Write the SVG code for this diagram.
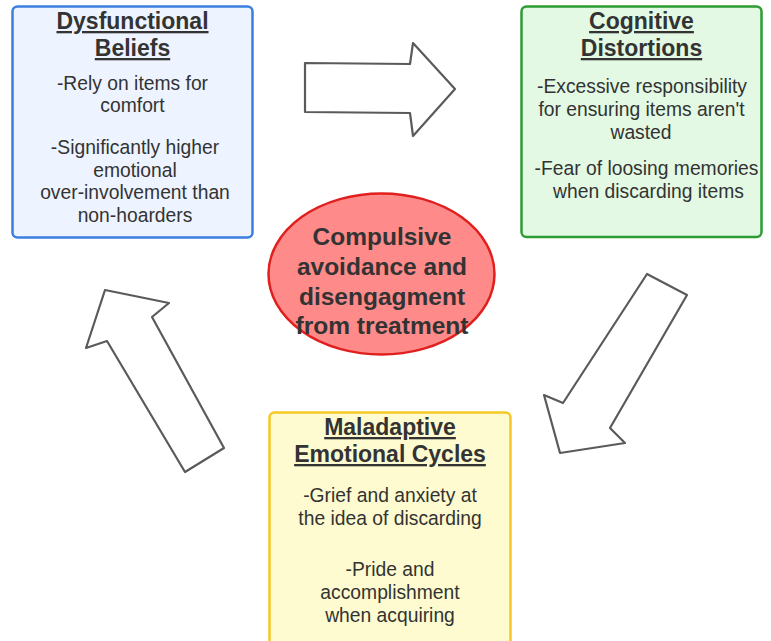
<svg xmlns="http://www.w3.org/2000/svg" width="771" height="641" viewBox="0 0 771 641">
  <style>
    .box { stroke-width: 2.5; }
    .title { font-family: "Liberation Sans", Arial, sans-serif; font-size: 23px; font-weight: bold; fill: #333333; text-anchor: middle; text-decoration: underline; }
    .body { font-family: "Liberation Sans", Arial, sans-serif; font-size: 19.3px; fill: #333333; text-anchor: middle; }
    .core { font-family: "Liberation Sans", Arial, sans-serif; font-size: 24.5px; font-weight: bold; fill: #333333; text-anchor: middle; }
    .arrow { fill: #ffffff; stroke: #5a5a5a; stroke-width: 2.2; stroke-linejoin: round; }
  </style>
  <rect width="771" height="641" fill="#ffffff"/>

  <!-- Connectors: block arrows forming the cycle -->
  <g id="connectors">
    <polygon class="arrow" points="305,63 410,64 413,43 455,89 413,136 410,113 305,112"/>
    <polygon class="arrow" points="647,274 687,295 610,428 625,443 560,453 544,395 563,403"/>
    <polygon class="arrow" points="105,290 169,303 152,317 224,448 185,472 107,341 86,348"/>
  </g>

  <g id="dysfunctional-beliefs">
    <rect class="box" x="12.5" y="6.5" width="240" height="231" rx="5" fill="#edf4ff" stroke="#3a7fe0"/>
    <text class="title" x="132.5" y="29">Dysfunctional</text>
    <text class="title" x="132.5" y="56">Beliefs</text>
    <text class="body" x="132.5" y="90">-Rely on items for</text>
    <text class="body" x="132.5" y="112">comfort</text>
    <text class="body" x="135" y="154">-Significantly higher</text>
    <text class="body" x="135" y="176.5">emotional</text>
    <text class="body" x="135" y="199">over-involvement than</text>
    <text class="body" x="135" y="221.5">non-hoarders</text>
  </g>

  <g id="cognitive-distortions">
    <rect class="box" x="521.5" y="6.5" width="240" height="230.5" rx="5" fill="#e3f9e3" stroke="#2e9b35"/>
    <text class="title" x="641.5" y="29">Cognitive</text>
    <text class="title" x="641.5" y="56">Distortions</text>
    <text class="body" x="642" y="93">-Excessive responsibility</text>
    <text class="body" x="641.5" y="116">for ensuring items aren't</text>
    <text class="body" x="641" y="139">wasted</text>
    <text class="body" x="646.5" y="175">-Fear of loosing memories</text>
    <text class="body" x="648.5" y="198">when discarding items</text>
  </g>

  <g id="emotional-cycles">
    <rect class="box" x="269.5" y="412.5" width="241" height="250" rx="5" fill="#fdfbcf" stroke="#f5c823"/>
    <text class="title" x="390" y="435">Maladaptive</text>
    <text class="title" x="390" y="462">Emotional Cycles</text>
    <text class="body" x="390" y="502">-Grief and anxiety at</text>
    <text class="body" x="390" y="525">the idea of discarding</text>
    <text class="body" x="390" y="576">-Pride and</text>
    <text class="body" x="390" y="599">accomplishment</text>
    <text class="body" x="390" y="622">when acquiring</text>
  </g>

  <g id="compulsive-avoidance">
    <ellipse cx="381.5" cy="274" rx="113" ry="80.5" fill="#ff8a8a" stroke="#e0201e" stroke-width="2.5"/>
    <text class="core" x="382" y="245">Compulsive</text>
    <text class="core" x="382" y="275">avoidance and</text>
    <text class="core" x="382" y="305">disengagment</text>
    <text class="core" x="382" y="334">from treatment</text>
  </g>
</svg>
